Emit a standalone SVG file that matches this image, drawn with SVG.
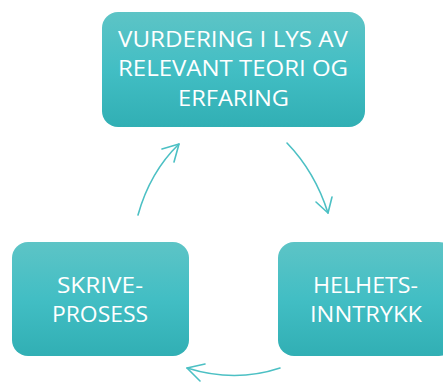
<svg xmlns="http://www.w3.org/2000/svg" width="443" height="382" viewBox="0 0 443 382">
<defs>
<linearGradient id="g" x1="0" y1="0" x2="0" y2="1">
<stop offset="0" stop-color="#5DC4C6"/>
<stop offset="0.5" stop-color="#42BEC4"/>
<stop offset="1" stop-color="#31AFB4"/>
</linearGradient>
</defs>
<style>
.box{fill:url(#g);}
.t{font-family:"Open Sans","Liberation Sans",sans-serif;font-size:22px;fill:#ffffff;text-anchor:middle;}
.c{fill:none;stroke:#4CC0C4;stroke-width:1.6;stroke-linecap:round;stroke-linejoin:round;}
</style>
<rect width="443" height="382" fill="#ffffff"/>
<g id="node-vurdering">
<rect class="box" x="102" y="12" width="263" height="115" rx="16"/>
<text class="t" x="233" y="47" textLength="230" lengthAdjust="spacingAndGlyphs">VURDERING I LYS AV</text>
<text class="t" x="233" y="76" textLength="230" lengthAdjust="spacingAndGlyphs">RELEVANT TEORI OG</text>
<text class="t" x="233.5" y="106" textLength="111" lengthAdjust="spacingAndGlyphs">ERFARING</text>
</g>
<g id="node-skriveprosess">
<rect class="box" x="12" y="242" width="177" height="114" rx="16"/>
<text class="t" x="100" y="293" textLength="86" lengthAdjust="spacingAndGlyphs">SKRIVE-</text>
<text class="t" x="100" y="322" textLength="96" lengthAdjust="spacingAndGlyphs">PROSESS</text>
</g>
<g id="node-helhetsinntrykk">
<rect class="box" x="278" y="242" width="177" height="114" rx="16"/>
<text class="t" x="365.5" y="293" textLength="105" lengthAdjust="spacingAndGlyphs">HELHETS-</text>
<text class="t" x="366" y="322" textLength="112" lengthAdjust="spacingAndGlyphs">INNTRYKK</text>
</g>
<g id="connectors">
<path class="c" d="M138,215 Q150,172 179,144"/>
<path class="c" d="M162,149 L179,144 L174,162"/>
<path class="c" d="M287,143 Q315,172 328,213"/>
<path class="c" d="M316,202 L328,213 L332,197"/>
<path class="c" d="M280,368 Q235,383 187,368"/>
<path class="c" d="M205,364 L187,368 L200,381"/>
</g>
</svg>
